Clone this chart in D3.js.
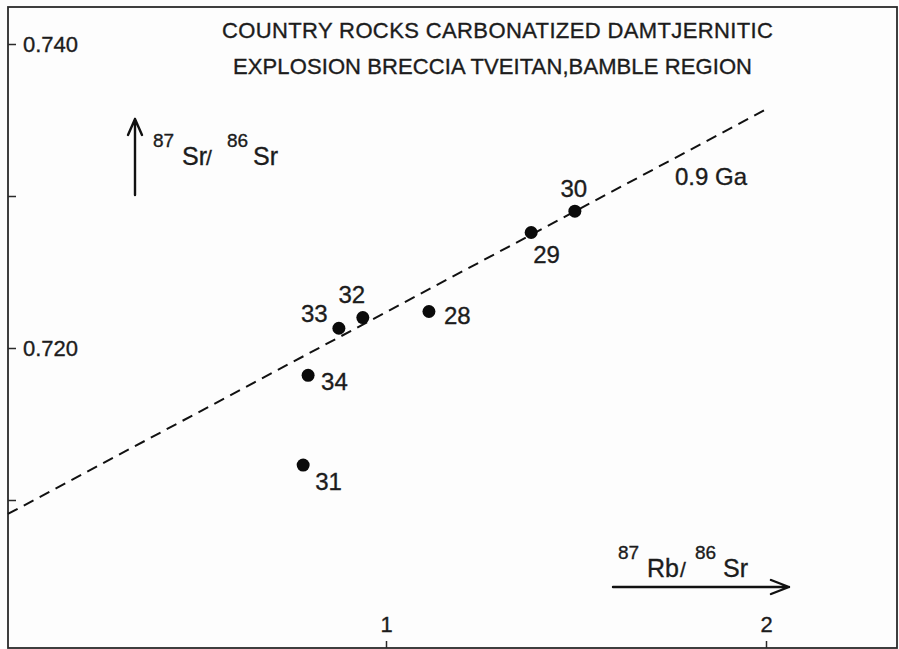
<!DOCTYPE html>
<html>
<head>
<meta charset="utf-8">
<script src="https://cdn.jsdelivr.net/npm/d3@7"></script>
<style>
  body { margin: 0; background: #fdfdfd; }
  text { font-family: "Liberation Sans", Arial, sans-serif; fill: #1c1c1c; stroke: #1c1c1c; stroke-width: 0.35px; }
</style>
</head>
<body>
<div id="graph"></div>
<script>
const width = 899
const height = 649

// sample numbers and measured ratios
const samples = ['30', '29', '33', '32', '28', '34', '31']
const rbSr = [1.497, 1.382, 0.876, 0.939, 1.113, 0.795, 0.782]
const srSr = [0.7290, 0.7276, 0.7213, 0.7220, 0.7224, 0.7182, 0.7123]
// label offsets (px) relative to each point
const labelDx = [-1, 2, -38, -11, 15, 13, 12]
const labelDy = [-14, 31, -6, -15, 12, 15, 25]

// 0.9 Ga reference isochron
const isoX = [0.005, 1.997]
const isoY = [0.70908, 0.73566]

const yTicks = [0.710, 0.720, 0.730, 0.740]
const yTickLabels = ['', '0.720', '', '0.740']
const xTicks = [1, 2]

const frame = { left: 8, top: 7, right: 897, bottom: 648 }

const svg = d3.select('#graph').append('svg')
  .attr('width', width)
  .attr('height', height)

const xScale = d3.scaleLinear().domain([0, 2]).range([6, 766])
const yScale = d3.scaleLinear().domain([0.710, 0.740]).range([500, 44])

// frame
svg.append('rect')
  .attr('x', frame.left)
  .attr('y', frame.top)
  .attr('width', frame.right - frame.left)
  .attr('height', frame.bottom - frame.top)
  .attr('fill', 'none')
  .attr('stroke', '#2a2a2a')
  .attr('stroke-width', 1.8)

// y axis, ticks pointing inwards
const yAxis = svg.append('g')
  .attr('transform', `translate(${frame.left},0)`)
  .call(d3.axisRight(yScale)
    .tickValues(yTicks)
    .tickSize(8)
    .tickPadding(7)
    .tickFormat((d, i) => yTickLabels[i]))
yAxis.select('.domain').remove()
yAxis.selectAll('line').attr('stroke', '#2a2a2a').attr('stroke-width', 1.5)
yAxis.selectAll('text')
  .style('font-family', '"Liberation Sans", Arial, sans-serif')
  .style('font-size', '22px')
  .attr('fill', '#1c1c1c')

// x axis along the bottom, ticks pointing up
const xAxis = svg.append('g')
  .attr('transform', `translate(0,${frame.bottom})`)
  .call(d3.axisTop(xScale)
    .tickValues(xTicks)
    .tickSize(7)
    .tickPadding(9)
    .tickFormat(d3.format('d')))
xAxis.select('.domain').remove()
xAxis.selectAll('line').attr('stroke', '#2a2a2a').attr('stroke-width', 1.5)
xAxis.selectAll('text')
  .style('font-family', '"Liberation Sans", Arial, sans-serif')
  .style('font-size', '22px')
  .attr('fill', '#1c1c1c')

// isochron
const line = d3.line().x(d => xScale(d[0])).y(d => yScale(d[1]))
svg.append('path')
  .datum(d3.zip(isoX, isoY))
  .attr('d', line)
  .attr('fill', 'none')
  .attr('stroke', '#111')
  .attr('stroke-width', 2)
  .attr('stroke-dasharray', '11,7')

svg.append('text')
  .attr('x', 675).attr('y', 185)
  .style('font-size', '24px')
  .text('0.9 Ga')

// points
const pts = samples.map((s, i) => ({ s, x: rbSr[i], y: srSr[i], dx: labelDx[i], dy: labelDy[i] }))
svg.selectAll('circle').data(pts).join('circle')
  .attr('cx', d => xScale(d.x))
  .attr('cy', d => yScale(d.y))
  .attr('r', 6.5)
  .attr('fill', '#0a0a0a')

svg.selectAll('text.lbl').data(pts).join('text')
  .attr('class', 'lbl')
  .attr('x', d => xScale(d.x) + d.dx)
  .attr('y', d => yScale(d.y) + d.dy)
  .attr('text-anchor', d => d.dx < -20 ? 'start' : (d.dx < 5 && d.dy < 0 ? 'middle' : 'start'))
  .style('font-size', '24px')
  .text(d => d.s)

// title
svg.append('text')
  .attr('x', 222).attr('y', 38)
  .attr('textLength', 551)
  .attr('lengthAdjust', 'spacing')
  .style('font-size', '22px')
  .text('COUNTRY ROCKS CARBONATIZED  DAMTJERNITIC')
svg.append('text')
  .attr('x', 233).attr('y', 74)
  .attr('textLength', 519)
  .attr('lengthAdjust', 'spacing')
  .style('font-size', '22px')
  .text('EXPLOSION BRECCIA TVEITAN,BAMBLE REGION')

// axis labels with arrows
function ratioLabel (x, y, pieces) {
  const t = svg.append('text').attr('y', y)
  pieces.forEach(p => {
    t.append('tspan')
      .attr('x', x + p.dx)
      .attr('y', y + (p.sup ? -18 : 0))
      .style('font-size', p.sup ? '19px' : (p.slash ? '21px' : '25px'))
      .text(p.t)
  })
}
ratioLabel(153, 165, [
  { t: '87', dx: 0, sup: true },
  { t: 'Sr', dx: 29 },
  { t: '/', dx: 53, slash: true },
  { t: '86', dx: 74, sup: true },
  { t: 'Sr', dx: 100 }
])
ratioLabel(618, 577, [
  { t: '87', dx: 0, sup: true },
  { t: 'Rb', dx: 29 },
  { t: '/', dx: 62, slash: true },
  { t: '86', dx: 77, sup: true },
  { t: 'Sr', dx: 105 }
])

const arrow = svg.append('g')
  .attr('fill', 'none')
  .attr('stroke', '#111')
  .attr('stroke-width', 2.4)
  .attr('stroke-linecap', 'round')
  .attr('stroke-linejoin', 'round')
arrow.append('path').attr('d', 'M135,195 L135,119 M128,135 L135,119 L142,135')
arrow.append('path').attr('d', 'M613,587 L789,587 M771,580 L789,587 L771,594')
</script>
</body>
</html>
